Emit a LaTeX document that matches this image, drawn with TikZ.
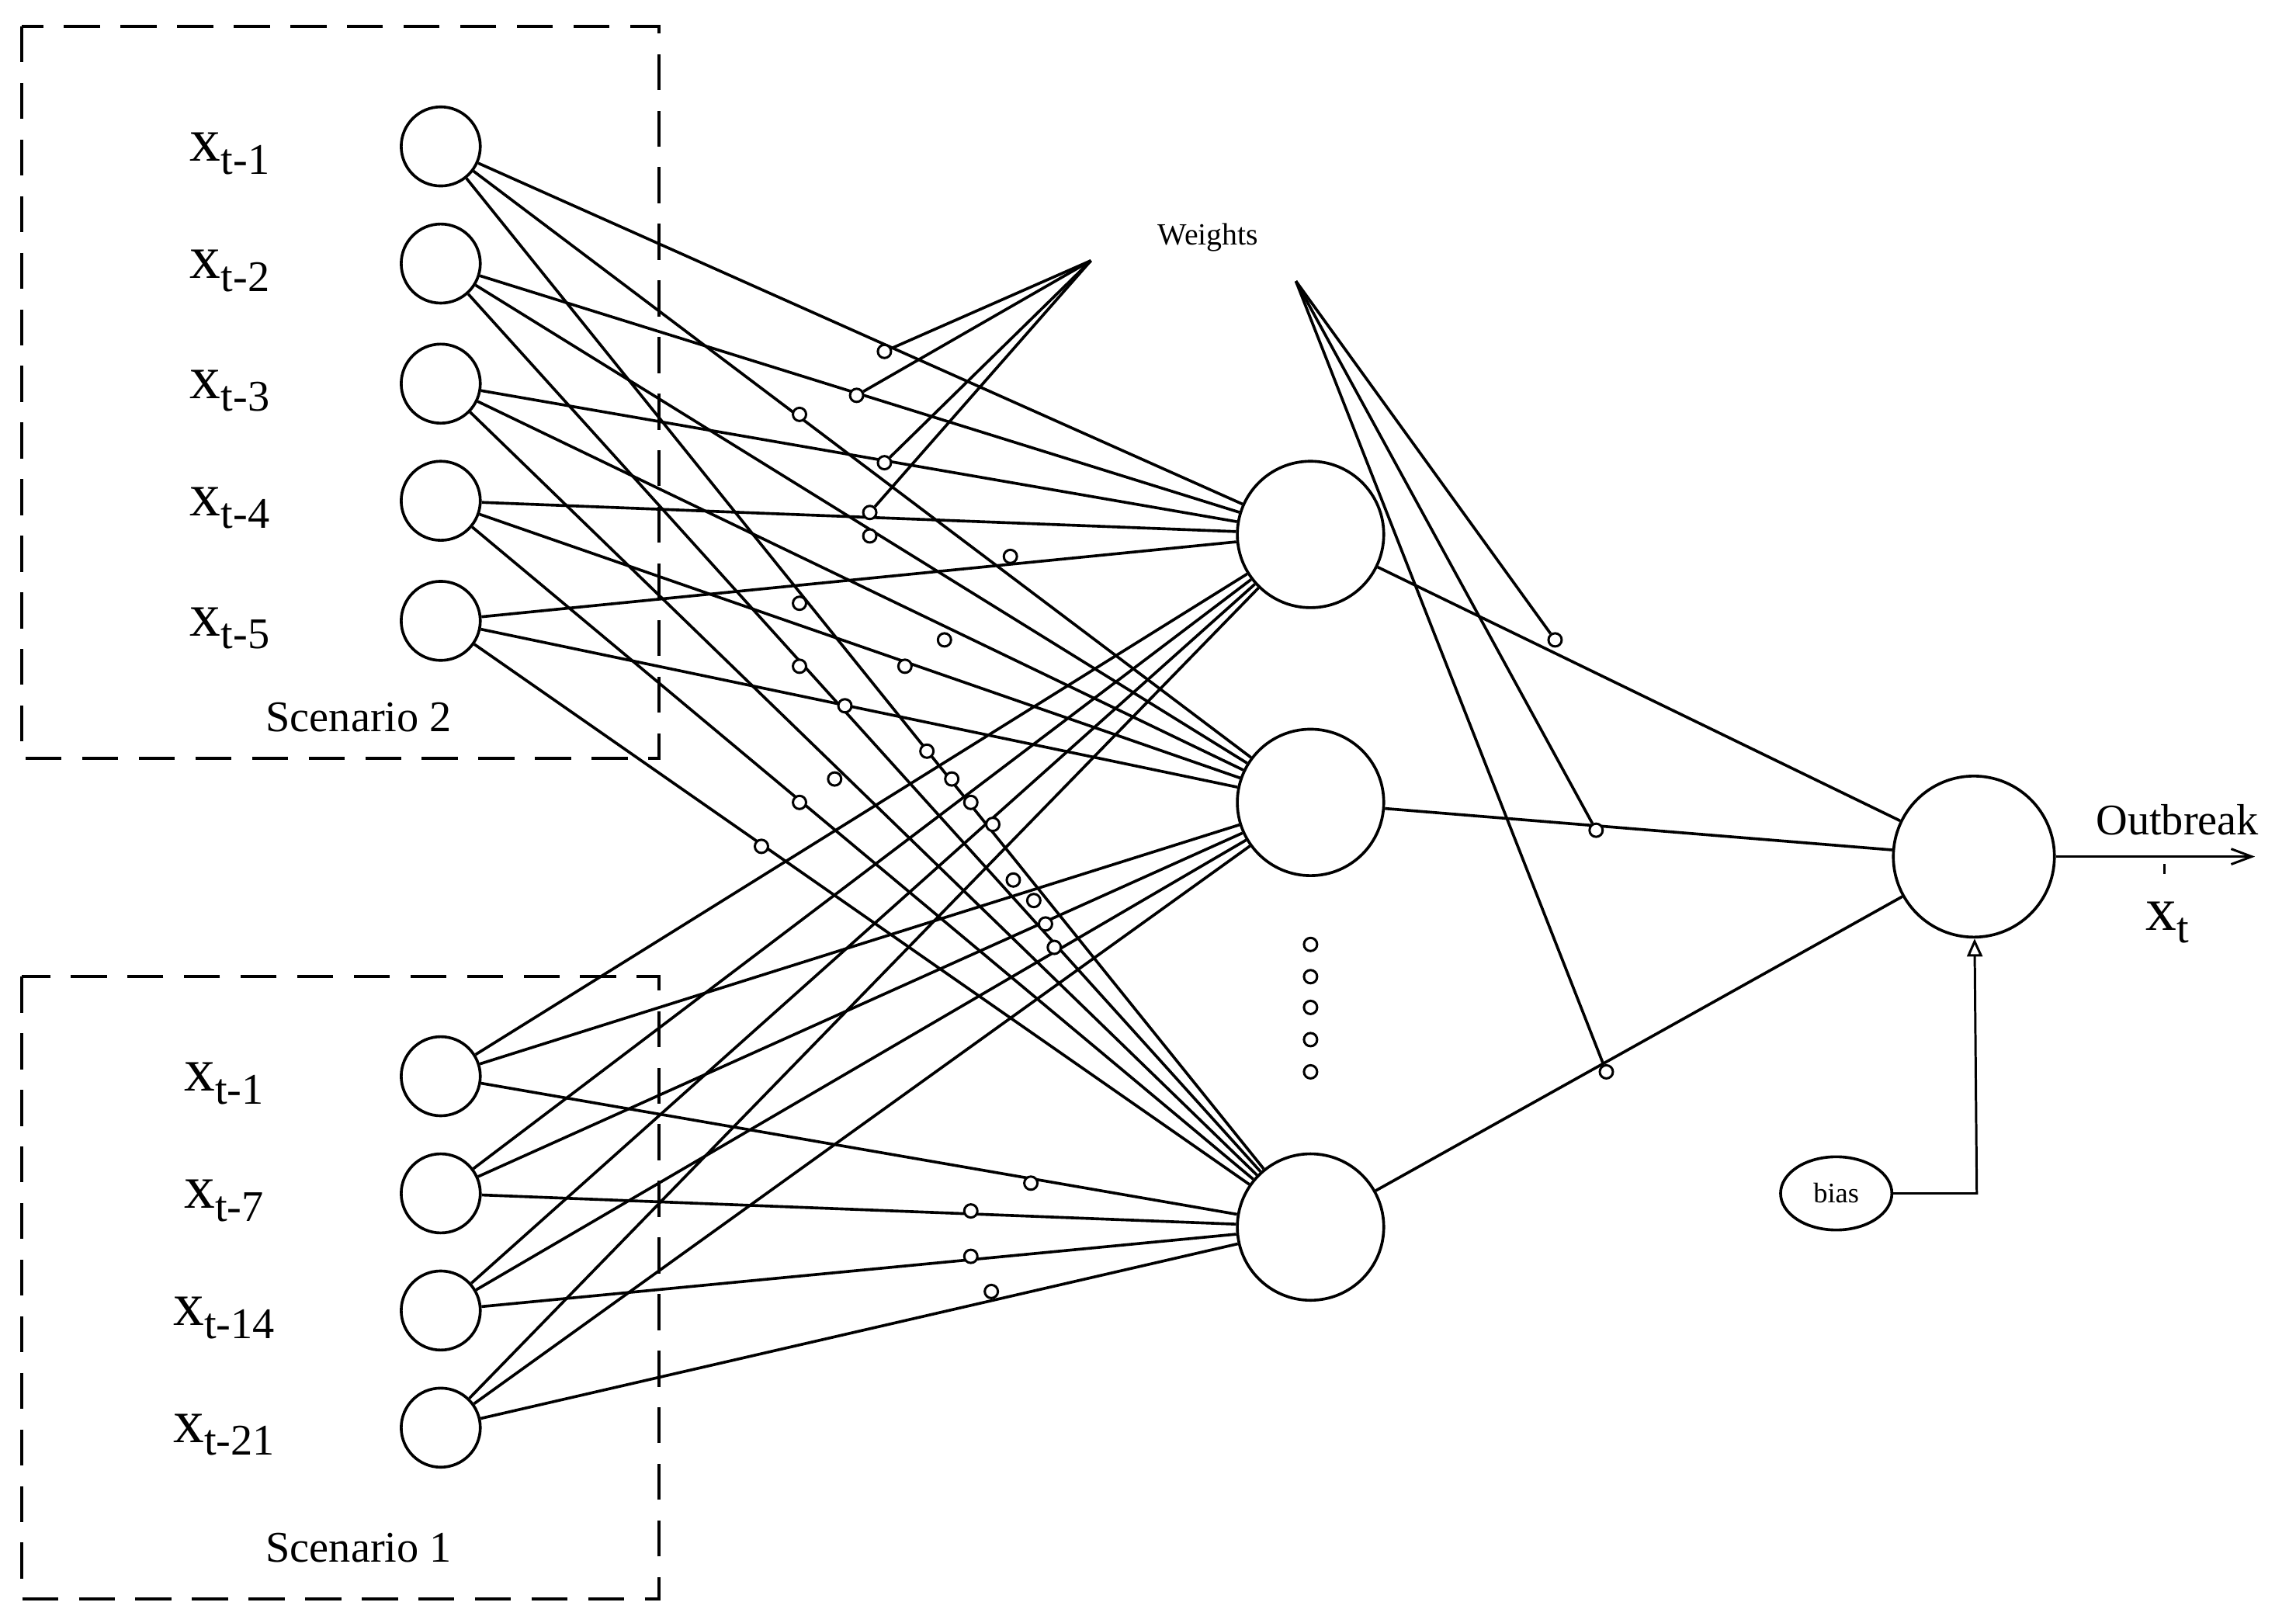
\documentclass[tikz,border=0pt]{standalone}
\usepackage{fontspec}
\setmainfont{Liberation Serif}
\usetikzlibrary{arrows.meta,shapes.geometric}
\begin{document}
\begin{tikzpicture}[x=0.02cm,y=-0.02cm,line width=1.1pt,
  inp/.style={circle,draw,minimum size=54*0.02cm,inner sep=0},
  hid/.style={circle,draw,minimum size=100*0.02cm,inner sep=0},
  sm/.style={circle,draw,fill=white,minimum size=9*0.02cm,inner sep=0,line width=0.9pt},
  box/.style={dash pattern=on 14pt off 8pt},
  lab/.style={font=\fontsize{24}{24}\selectfont}]
\useasboundingbox (0,0) rectangle (1568,1108);
\newcommand{\xlab}[1]{x\raisebox{-0.45ex}{\fontsize{17}{17}\selectfont #1}}
% boxes
\draw[box] (15,18) rectangle (450,518);
\draw[box] (15,667) rectangle (450,1092);
\node[font=\fontsize{17}{17}\selectfont] (s2) at (245,490) {Scenario 2};
\node[font=\fontsize{17}{17}\selectfont] (s1) at (245,1057) {Scenario 1};
% inputs
\foreach \n/\y/\t in {a1/100/t-1,a2/180/t-2,a3/262/t-3,a4/342/t-4,a5/424/t-5}{
  \node[inp] (\n) at (301,\y) {};
  \node[lab] (l\n) at (157,\y+5) {\xlab{\t}};}
\foreach \n/\y/\t in {b1/735/t-1,b2/815/t-7,b3/895/t-14,b4/975/t-21}{
  \node[inp] (\n) at (301,\y) {};
  \node[lab] (l\n) at (153,\y+5) {\xlab{\t}};}
% hidden
\node[hid] (h1) at (895,365) {};
\node[hid] (h2) at (895,548) {};
\node[hid] (h3) at (895,838) {};
\foreach \i/\y in {1/645,2/667,3/688,4/710,5/732}{\node[sm] (d\i) at (895,\y) {};}
% output
\node[circle,draw,minimum size=110*0.02cm,inner sep=0] (o) at (1348,585) {};
\foreach \s in {a1,a2,a3,a4,a5,b1,b2,b3,b4}{
  \foreach \h in {h1,h2,h3}{\draw (\s) -- (\h);}}
\foreach \h in {h1,h2,h3}{\draw (\h) -- (o);}
% weights
\node[font=\fontsize{12}{12}\selectfont] (w) at (825,162) {Weights};
\coordinate (wl) at (745,178);
\coordinate (wr) at (885,192);
\foreach \i/\p in {1/{(604,240)},2/{(585,270)},3/{(604,316)},4/{(594,350)}}{
  \node[sm] (wa\i) at \p {};}
\foreach \i in {1,...,4}{\draw (wl) -- (wa\i);}
\node[sm] (wb1) at (1062,437) {};
\node[sm] (wb2) at (1090,567) {};
\node[sm] (wb3) at (1097,732) {};
\foreach \i in {1,2,3}{\draw (wr) -- (wb\i);}
\foreach \i/\p in {1/{(546,283)},2/{(594,366)},3/{(690,380)},4/{(546,412)},5/{(645,437)},6/{(618,455)},7/{(546,455)},8/{(577,482)},9/{(633,513)},10/{(570,532)},11/{(650,532)},12/{(546,548)},13/{(663,548)},14/{(678,563)},15/{(520,578)},16/{(692,601)},17/{(706,615)},18/{(714,631)},19/{(720,647)},20/{(704,808)},21/{(663,827)},22/{(663,858)},23/{(677,882)}}{
  \node[sm] (c\i) at \p {};}
% bias
\node[ellipse,draw,minimum width=76*0.02cm,minimum height=50*0.02cm,inner sep=0,font=\fontsize{11}{11}\selectfont] (bias) at (1254,815) {bias};
\coordinate (bc) at (1350,815);
\draw[-{Triangle[open,length=7pt,width=6pt]},line width=0.9pt] (bias) -- (bc) -- (o);
% out
\coordinate (oe) at (1540,585);
\draw[-{Straight Barb[length=8pt,width=6pt]},line width=0.9pt] (o) -- (oe);
\node[font=\fontsize{17}{17}\selectfont] (ob) at (1487,560) {Outbreak};
\node[lab] (xt) at (1480,630) {\xlab{t}};
\draw[line width=0.9pt] (1478,590) -- (1478,597);
\end{tikzpicture}
\end{document}
